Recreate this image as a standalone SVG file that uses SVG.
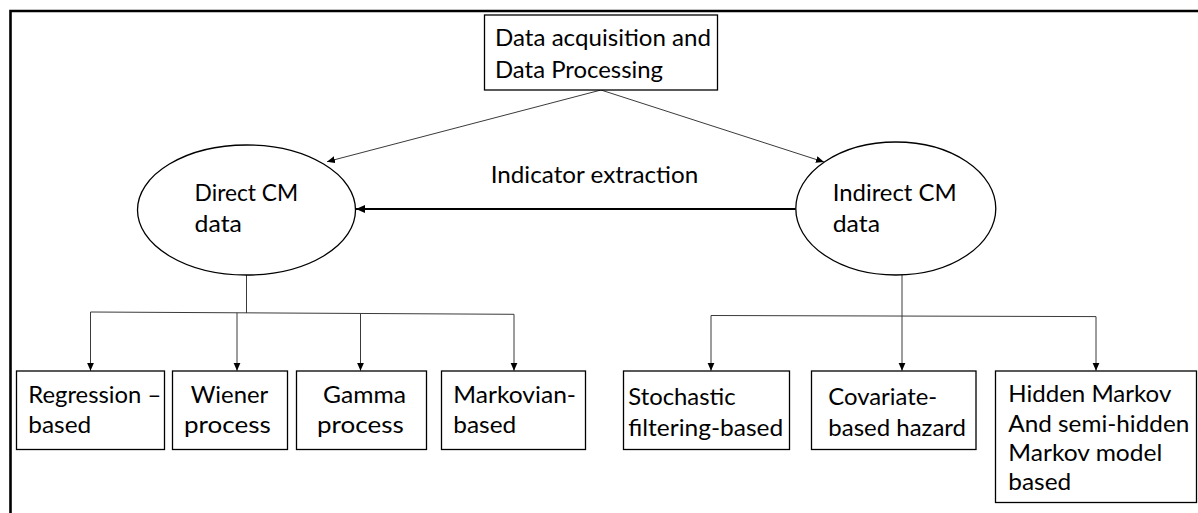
<svg xmlns="http://www.w3.org/2000/svg" width="1198" height="513" viewBox="0 0 1198 513">
  <style>
    .frame { fill: none; stroke: #000; stroke-width: 2.6; }
    .box { fill: #fff; stroke: #000; stroke-width: 1.3; }
    .oval { fill: #fff; stroke: #000; stroke-width: 1.3; }
    .link { fill: none; stroke: #3a3a3a; stroke-width: 1; }
    .link-bold { fill: none; stroke: #000; stroke-width: 2.2; }
    text { font-family: Lato, "Open Sans", "Liberation Sans", sans-serif; font-size: 23.5px; fill: #000; }
  </style>
  <defs>
    <marker id="arrow" markerUnits="userSpaceOnUse" markerWidth="9" markerHeight="8" refX="8" refY="3.5" orient="auto">
      <path d="M0,0 L8,3.5 L0,7 z" fill="#000"/>
    </marker>
    <marker id="arrow-bold" markerUnits="userSpaceOnUse" markerWidth="10" markerHeight="9" refX="9" refY="4" orient="auto">
      <path d="M0,0 L9,4 L0,8 z" fill="#000"/>
    </marker>
  </defs>

  <!-- outer border (top and left edges only) -->
  <path class="frame" d="M10.5,513 V11 H1198"/>

  <!-- connectors -->
  <g id="connectors">
    <line class="link" x1="601" y1="90" x2="327" y2="161.7" marker-end="url(#arrow)"/>
    <line class="link" x1="601" y1="90" x2="824" y2="162" marker-end="url(#arrow)"/>
    <line class="link-bold" x1="795.7" y1="209" x2="356" y2="209" marker-end="url(#arrow-bold)"/>

    <!-- direct CM branches -->
    <line class="link" x1="246.5" y1="275" x2="246.5" y2="313"/>
    <line class="link" x1="90.5" y1="312" x2="514" y2="314.3"/>
    <line class="link" x1="90.5" y1="312" x2="90.5" y2="370.7" marker-end="url(#arrow)"/>
    <line class="link" x1="237" y1="312.8" x2="237" y2="370.7" marker-end="url(#arrow)"/>
    <line class="link" x1="360.5" y1="313.4" x2="360.5" y2="370.7" marker-end="url(#arrow)"/>
    <line class="link" x1="514" y1="314.3" x2="514" y2="370.7" marker-end="url(#arrow)"/>

    <!-- indirect CM branches -->
    <line class="link" x1="902" y1="275" x2="902" y2="316"/>
    <line class="link" x1="711" y1="315.5" x2="1096" y2="316.6"/>
    <line class="link" x1="711" y1="315.5" x2="711" y2="370.7" marker-end="url(#arrow)"/>
    <line class="link" x1="902" y1="316" x2="902" y2="370.7" marker-end="url(#arrow)"/>
    <line class="link" x1="1096" y1="316.6" x2="1096" y2="370.7" marker-end="url(#arrow)"/>
  </g>

  <text x="490.7" y="182.7" textLength="207.6" lengthAdjust="spacingAndGlyphs">Indicator extraction</text>

  <g id="data-acquisition">
    <rect class="box" x="484.5" y="15" width="233" height="75"/>
    <text x="495" y="45.5" textLength="216" lengthAdjust="spacingAndGlyphs">Data acquisition and</text>
    <text x="495" y="77.5" textLength="168" lengthAdjust="spacingAndGlyphs">Data Processing</text>
  </g>

  <g id="direct-cm">
    <ellipse class="oval" cx="246.5" cy="210" rx="109" ry="65"/>
    <text x="194.6" y="201" textLength="103.6" lengthAdjust="spacingAndGlyphs">Direct CM</text>
    <text x="194.6" y="232" textLength="47.3" lengthAdjust="spacingAndGlyphs">data</text>
  </g>

  <g id="indirect-cm">
    <ellipse class="oval" cx="895.8" cy="208.5" rx="100" ry="66.5"/>
    <text x="832.7" y="201" textLength="124" lengthAdjust="spacingAndGlyphs">Indirect CM</text>
    <text x="832.7" y="232" textLength="47.3" lengthAdjust="spacingAndGlyphs">data</text>
  </g>

  <g id="regression">
    <rect class="box" x="16.5" y="371" width="148" height="78.5"/>
    <text x="28.3" y="402.5" textLength="133" lengthAdjust="spacingAndGlyphs">Regression –</text>
    <text x="28.3" y="433" textLength="62.9" lengthAdjust="spacingAndGlyphs">based</text>
  </g>

  <g id="wiener">
    <rect class="box" x="172.5" y="371" width="115" height="78.5"/>
    <text x="190.7" y="402.5" textLength="77.6" lengthAdjust="spacingAndGlyphs">Wiener</text>
    <text x="184" y="433" textLength="86.7" lengthAdjust="spacingAndGlyphs">process</text>
  </g>

  <g id="gamma">
    <rect class="box" x="296.5" y="371" width="130" height="78.5"/>
    <text x="323" y="402.5" textLength="82.9" lengthAdjust="spacingAndGlyphs">Gamma</text>
    <text x="317" y="433" textLength="86.7" lengthAdjust="spacingAndGlyphs">process</text>
  </g>

  <g id="markovian">
    <rect class="box" x="441.5" y="371" width="144" height="78.5"/>
    <text x="453.3" y="402.5" textLength="122.7" lengthAdjust="spacingAndGlyphs">Markovian-</text>
    <text x="453.3" y="433" textLength="62.9" lengthAdjust="spacingAndGlyphs">based</text>
  </g>

  <g id="stochastic">
    <rect class="box" x="623.5" y="371" width="166" height="78.5"/>
    <text x="628.3" y="405" textLength="107.3" lengthAdjust="spacingAndGlyphs">Stochastic</text>
    <text x="628.3" y="436" textLength="155" lengthAdjust="spacingAndGlyphs">filtering-based</text>
  </g>

  <g id="covariate">
    <rect class="box" x="811.5" y="371" width="164.5" height="78.5"/>
    <text x="828.3" y="405" textLength="108.9" lengthAdjust="spacingAndGlyphs">Covariate-</text>
    <text x="828.3" y="436" textLength="137.7" lengthAdjust="spacingAndGlyphs">based hazard</text>
  </g>

  <g id="hidden-markov">
    <rect class="box" x="995.5" y="371" width="201" height="131.5"/>
    <text x="1008.3" y="402" textLength="163" lengthAdjust="spacingAndGlyphs">Hidden Markov</text>
    <text x="1008.3" y="431.5" textLength="181" lengthAdjust="spacingAndGlyphs">And semi-hidden</text>
    <text x="1008.3" y="461" textLength="154" lengthAdjust="spacingAndGlyphs">Markov model</text>
    <text x="1008.3" y="490" textLength="62.9" lengthAdjust="spacingAndGlyphs">based</text>
  </g>
</svg>
